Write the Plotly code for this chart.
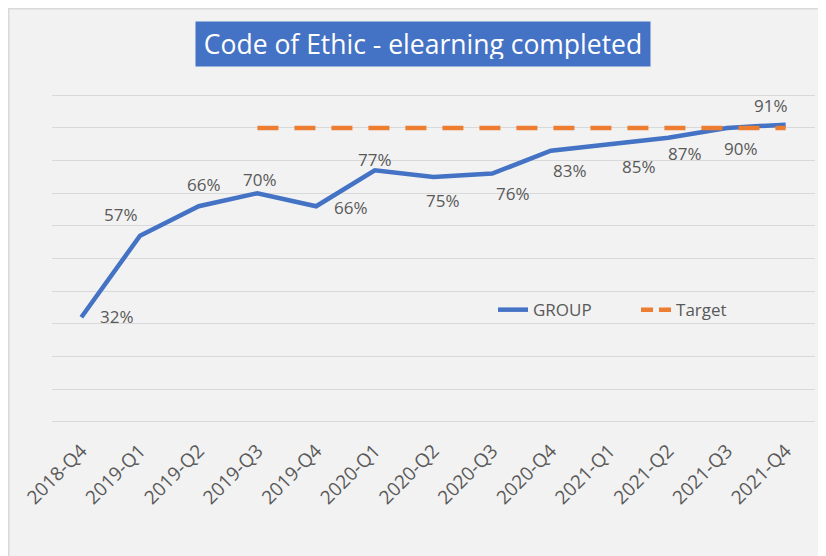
import plotly.graph_objects as go

quarters = ["2018-Q4", "2019-Q1", "2019-Q2", "2019-Q3", "2019-Q4", "2020-Q1", "2020-Q2",
            "2020-Q3", "2020-Q4", "2021-Q1", "2021-Q2", "2021-Q3", "2021-Q4"]
group = [0.32, 0.57, 0.66, 0.70, 0.66, 0.77, 0.75, 0.76, 0.83, 0.85, 0.87, 0.90, 0.91]
target = [None, None, None, 0.90, 0.90, 0.90, 0.90, 0.90, 0.90, 0.90, 0.90, 0.90, 0.90]

# data-label offsets in pixels (style only): (dx right, dy up)
label_offsets = [(36, 1), (-19, 21), (5, 22), (3, 14), (35, -1), (0, 11), (9, -24),
                 (21, -20), (19, -20), (29, -22), (17, -16), (14, -21), (-15, 19)]

FONT = "Open Sans"
GRAY = "#595959"

fig = go.Figure()
fig.add_trace(go.Scatter(
    x=quarters, y=group, name="GROUP", mode="lines",
    line=dict(color="#4472C4", width=4.5),
))
fig.add_trace(go.Scatter(
    x=quarters, y=target, name="Target", mode="lines", showlegend=False,
    line=dict(color="#ED7D31", width=4.5, dash="21px,16px"),
))
# legend entry for Target with a dash pattern scaled to the legend swatch
fig.add_trace(go.Scatter(
    x=[None], y=[None], name="Target", mode="lines",
    line=dict(color="#ED7D31", width=4.5, dash="12px,6px"),
))

annotations = [dict(
    text="Code of Ethic - elearning completed", xref="paper", yref="paper",
    x=0.4862, y=1.1456, xanchor="center", yanchor="middle", showarrow=False,
    font=dict(family=FONT, size=26.5, color="white"),
    bgcolor="#4472C4", borderpad=7, width=440, height=30,
)]
for q, v, (dx, dy) in zip(quarters, group, label_offsets):
    annotations.append(dict(
        x=q, y=v, xref="x", yref="y", text=f"{v*100:.0f}%", showarrow=False,
        xanchor="center", yanchor="middle", xshift=dx, yshift=dy,
        font=dict(family=FONT, size=17, color=GRAY),
    ))

fig.update_layout(
    width=818, height=548,
    margin=dict(l=44, r=11, t=84, b=131, autoexpand=False),
    paper_bgcolor="#F2F2F2", plot_bgcolor="#F2F2F2",
    font=dict(family=FONT, color=GRAY),
    showlegend=True,
    legend=dict(orientation="h", x=0.578, y=0.345, xanchor="left", yanchor="middle",
                bgcolor="rgba(0,0,0,0)", font=dict(size=17, color=GRAY),
                entrywidth=98, traceorder="normal"),
    xaxis=dict(type="category", range=[-0.5, 12.5], showgrid=False, showline=False,
               zeroline=False, ticks="", tickangle=-45, automargin=False,
               ticklabelstandoff=10,
               tickfont=dict(family=FONT, size=19, color=GRAY)),
    yaxis=dict(range=[-0.01, 1.01], tickvals=[i / 10 for i in range(11)],
               showticklabels=False, showgrid=True, automargin=False,
               gridcolor="#D9D9D9", gridwidth=1.3, zeroline=False, showline=False,
               fixedrange=True),
    annotations=annotations,
    shapes=[
        dict(type="line", xref="paper", yref="paper", x0=-0.0567, x1=-0.0567, y0=1.26, y1=-0.45,
             line=dict(color="#D9D9D9", width=1.5)),
        dict(type="line", xref="paper", yref="paper", x0=-0.0567, x1=1.05, y0=1.2498, y1=1.2498,
             line=dict(color="#D9D9D9", width=1.5)),
    ],
)

fig.write_html("out.html")
